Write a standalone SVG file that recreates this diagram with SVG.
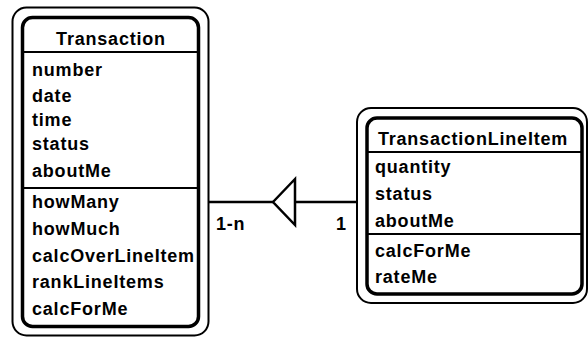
<svg xmlns="http://www.w3.org/2000/svg" width="588" height="340" viewBox="0 0 588 340">
  <style>
    .bg { fill: #ffffff; }
    .outer { fill: none; stroke: #000; stroke-width: 2; }
    .inner { fill: #fff; stroke: #000; stroke-width: 3.5; }
    .sep { stroke: #000; stroke-width: 2; fill: none; }
    .conn { stroke: #000; stroke-width: 2.5; fill: none; }
    .tri { fill: #fff; stroke: #000; stroke-width: 2.5; stroke-linejoin: miter; }
    text { font-family: "Liberation Sans", Arial, Helvetica, sans-serif; font-size: 18px; font-weight: bold; letter-spacing: 0.8px; fill: #000; }
    .title { text-anchor: middle; }
  </style>
  <rect class="bg" x="0" y="0" width="588" height="340"/>

  <!-- association: Transaction (1-n) to TransactionLineItem (1) -->
  <g id="connectors">
    <line class="conn" x1="208" y1="202" x2="357" y2="202"/>
    <polygon class="tri" points="273,202 295,179 295,225"/>
    <text x="216" y="230">1-n</text>
    <text x="336" y="230">1</text>
  </g>

  <g id="transaction">
    <rect class="outer" x="12.5" y="7.5" width="196" height="328" rx="14"/>
    <rect class="inner" x="22.5" y="17.5" width="176" height="309" rx="10"/>
    <line class="sep" x1="22.5" y1="52" x2="198.5" y2="52"/>
    <line class="sep" x1="22.5" y1="188" x2="198.5" y2="188"/>
    <text class="title" x="111" y="45">Transaction</text>
    <text x="32" y="76">number</text>
    <text x="32" y="102">date</text>
    <text x="32" y="126">time</text>
    <text x="32" y="150">status</text>
    <text x="32" y="177">aboutMe</text>
    <text x="32" y="208">howMany</text>
    <text x="32" y="235">howMuch</text>
    <text x="32" y="262">calcOverLineItem</text>
    <text x="32" y="288">rankLineItems</text>
    <text x="32" y="315">calcForMe</text>
  </g>

  <g id="transaction-line-item">
    <rect class="outer" x="357" y="108" width="230" height="195" rx="14"/>
    <rect class="inner" x="367" y="118" width="215" height="176" rx="10"/>
    <line class="sep" x1="367" y1="152" x2="582" y2="152"/>
    <line class="sep" x1="367" y1="234" x2="582" y2="234"/>
    <text class="title" x="473" y="145">TransactionLineItem</text>
    <text x="375" y="173">quantity</text>
    <text x="375" y="200">status</text>
    <text x="375" y="227">aboutMe</text>
    <text x="375" y="257">calcForMe</text>
    <text x="375" y="283">rateMe</text>
  </g>
</svg>
